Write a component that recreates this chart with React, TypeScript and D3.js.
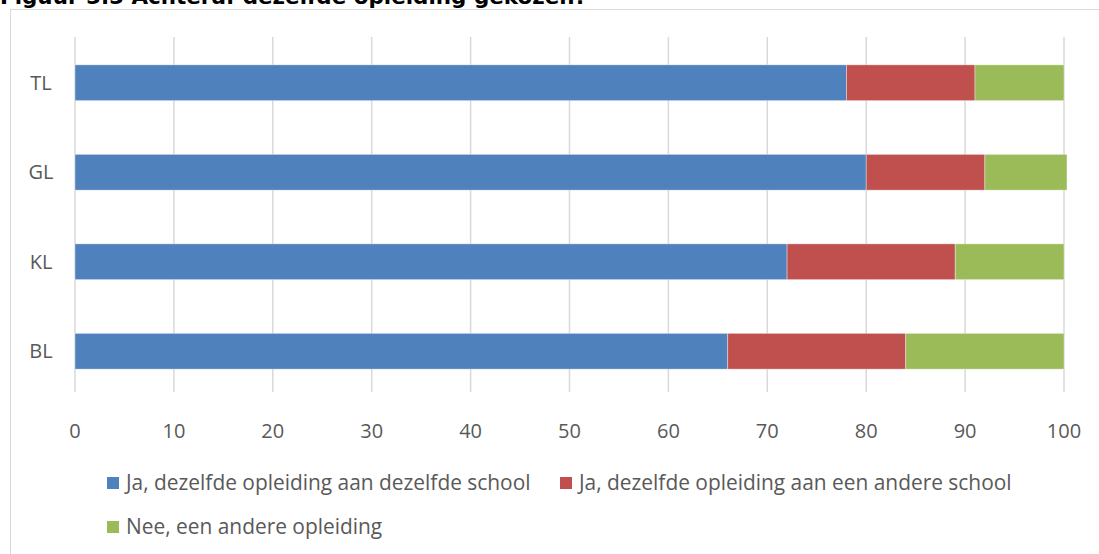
import React from "react";
import * as d3 from "d3";

const categories = ["TL", "GL", "KL", "BL"];
const seriesNames = [
  "Ja, dezelfde opleiding aan dezelfde school",
  "Ja, dezelfde opleiding aan een andere school",
  "Nee, een andere opleiding",
];
const sameSchool = [78, 80, 72, 66];
const otherSchool = [13, 12, 17, 18];
const otherStudy = [9, 8.3, 11, 16];
const xTicks = [0, 10, 20, 30, 40, 50, 60, 70, 80, 90, 100];
const colors = ["#4f81bd", "#c0504d", "#9bbb59"];
const title = "Figuur 5.5 Achteraf dezelfde opleiding gekozen?";

export default function App() {
  const W = 1099, H = 554;
  const x = d3.scaleLinear().domain([0, 100]).range([75, 1064]);
  const y = d3.scaleBand().domain(categories).range([38, 396]).paddingInner(0.6).paddingOuter(0.3);
  const rows = categories.map((c, i) => ({ cat: c, a: sameSchool[i], b: otherSchool[i], c: otherStudy[i] }));
  const stacked = d3.stack<any>().keys(["a", "b", "c"])(rows);
  const font = "'Open Sans', sans-serif";
  const legendItems = [
    { name: seriesNames[0], color: colors[0], x: 107, y: 483 },
    { name: seriesNames[1], color: colors[1], x: 560, y: 483 },
    { name: seriesNames[2], color: colors[2], x: 107, y: 527 },
  ];
  return (
    <svg width={W} height={H} style={{ position: "absolute", left: 0, top: 0, background: "#fff" }}>
      <text x={0} y={4} fontFamily="'DejaVu Sans', sans-serif" fontWeight="bold" fontSize={21.5} fill="#000"
        textLength={587} lengthAdjust="spacingAndGlyphs">
        {title}
      </text>
      <rect x={10.5} y={9.5} width={1100} height={600} fill="none" stroke="#d9d9d9" strokeWidth={1} />
      {xTicks.map((t) => (
        <line key={t} x1={x(t)} x2={x(t)} y1={37} y2={392} stroke="#d9d9d9" strokeWidth={1.5} />
      ))}
      {stacked.map((s, si) =>
        s.map((d: any, di: number) => (
          <rect
            key={si + "-" + di}
            x={x(d[0])}
            width={x(d[1]) - x(d[0])}
            y={y(categories[di])}
            height={y.bandwidth()}
            fill={colors[si]}
            stroke="#ffffff"
            strokeOpacity={0.5}
            strokeWidth={0.75}
          />
        ))
      )}
      {categories.map((c) => (
        <text key={c} x={41} y={(y(c) as number) + y.bandwidth() / 2} dy="0.35em" textAnchor="middle"
          fontFamily={font} fontSize={20} fill="#595959">{c}</text>
      ))}
      {xTicks.map((t) => (
        <text key={"l" + t} x={x(t)} y={438} textAnchor="middle" fontFamily={font} fontSize={20} fill="#595959">{t}</text>
      ))}
      {legendItems.map((l) => (
        <g key={l.name}>
          <rect x={l.x} y={l.y - 6} width={12} height={12} fill={l.color} />
          <text x={l.x + 19} y={l.y} dy="0.35em" fontFamily={font} fontSize={20.9} fill="#595959">{l.name}</text>
        </g>
      ))}
    </svg>
  );
}
